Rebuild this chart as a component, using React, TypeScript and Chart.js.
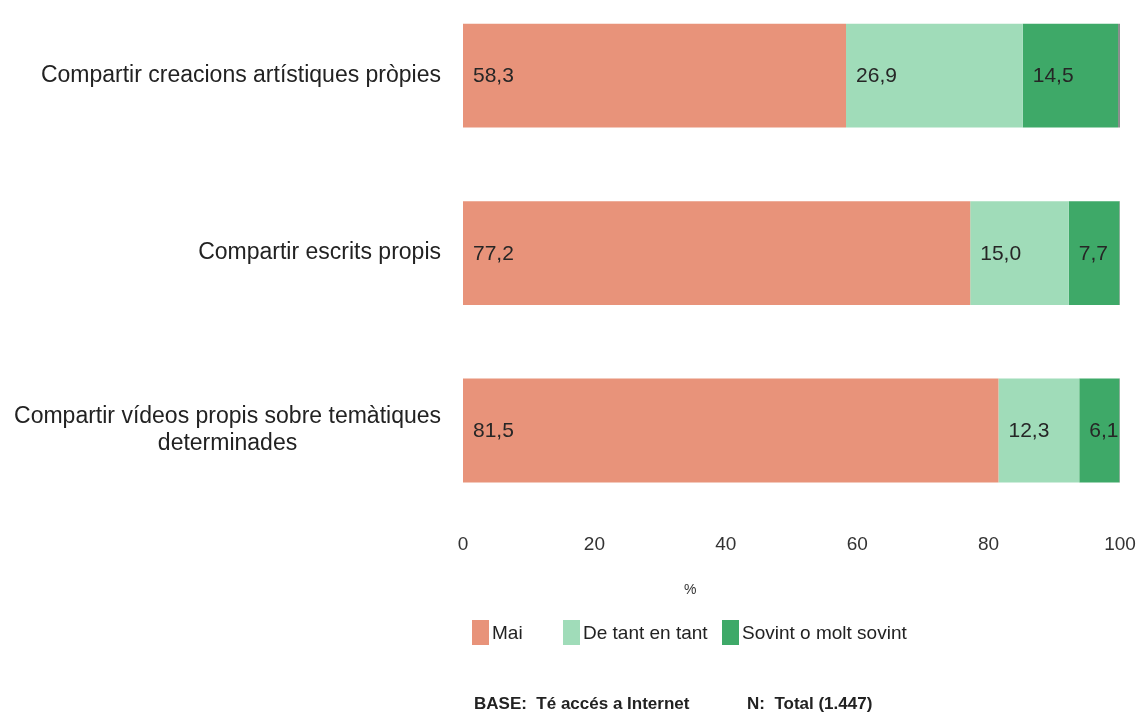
import React, { useEffect, useRef } from "react";
import { Chart, registerables } from "chart.js";

Chart.register(...registerables);

const categories: string[][] = [
  ["Compartir creacions artístiques pròpies"],
  ["Compartir escrits propis"],
  ["Compartir vídeos propis sobre temàtiques", "determinades"],
];
const mai = [58.3, 77.2, 81.5];
const deTant = [26.9, 15.0, 12.3];
const sovint = [14.5, 7.7, 6.1];
const nsnc = [0.3, 0.1, 0.1];
const seriesNames = ["Mai", "De tant en tant", "Sovint o molt sovint", "NS/NC"];
const seriesColors = ["#E8937A", "#A0DCB9", "#3EA968", "#8C8C8C"];
const xTicks = [0, 20, 40, 60, 80, 100];

const FONT = "'Liberation Sans', Arial, sans-serif";

const labelPlugin = {
  id: "customLabels",
  afterDatasetsDraw(chart: any) {
    const ctx = chart.ctx;
    ctx.save();
    // data labels
    ctx.font = `21px ${FONT}`;
    ctx.fillStyle = "#262626";
    ctx.textAlign = "left";
    ctx.textBaseline = "middle";
    chart.data.datasets.forEach((ds: any, di: number) => {
      if (di > 2) return;
      const meta = chart.getDatasetMeta(di);
      meta.data.forEach((bar: any, i: number) => {
        const v = ds.data[i];
        const left = Math.min(bar.x, bar.base);
        ctx.fillText(v.toFixed(1).replace(".", ","), left + 10, bar.y + 1);
      });
    });
    // category labels
    const yScale = chart.scales.y;
    const rightEdge = chart.chartArea.left - 22;
    ctx.font = `23px ${FONT}`;
    ctx.fillStyle = "#222";
    ctx.textAlign = "center";
    const lh = 27;
    categories.forEach((lines, i) => {
      const cy = yScale.getPixelForTick(i);
      const w = Math.max(...lines.map((l) => ctx.measureText(l).width));
      const cx = rightEdge - w / 2;
      const y0 = cy - ((lines.length - 1) * lh) / 2;
      lines.forEach((l, k) => ctx.fillText(l, cx, y0 + k * lh));
    });
    ctx.restore();
  },
};

export default function App() {
  const ref = useRef<HTMLCanvasElement | null>(null);
  useEffect(() => {
    if (!ref.current) return;
    const data = [mai, deTant, sovint, nsnc];
    const chart = new Chart(ref.current, {
      type: "bar",
      data: {
        labels: categories.map((c) => c.join(" ")),
        datasets: data.map((d, i) => ({
          label: seriesNames[i],
          data: d,
          backgroundColor: seriesColors[i],
          borderWidth: 0,
          barPercentage: 0.585,
          categoryPercentage: 1,
        })),
      },
      options: {
        indexAxis: "y",
        animation: false,
        responsive: false,
        maintainAspectRatio: false,
        layout: { padding: { left: 463, right: 17, top: 27, bottom: 152 } },
        plugins: {
          legend: { display: false },
          tooltip: { enabled: false },
          title: { display: false },
        },
        scales: {
          x: {
            stacked: true,
            min: 0,
            max: 100,
            grid: { display: false },
            border: { display: false },
            afterBuildTicks: (scale: any) => {
              scale.ticks = xTicks.map((v) => ({ value: v }));
            },
            afterFit: (scale: any) => {
              scale.paddingLeft = 0;
              scale.paddingRight = 0;
            },
            ticks: {
              padding: 6.5,
              color: "#333",
              font: { family: FONT, size: 19 },
            },
          },
          y: {
            stacked: true,
            display: false,
            offset: true,
          },
        },
      },
      plugins: [labelPlugin],
    });
    return () => chart.destroy();
  }, []);

  const legendItem = (i: number, width?: number) => (
    <div
      key={i}
      style={{ display: "flex", alignItems: "center", width: width ? width : undefined }}
    >
      <div style={{ width: 17, height: 25, background: seriesColors[i], marginRight: 3 }} />
      <span>{seriesNames[i]}</span>
    </div>
  );

  return (
    <div
      style={{
        position: "absolute",
        left: 0,
        top: 0,
        width: 1137,
        height: 715,
        overflow: "hidden",
        background: "#fff",
      }}
    >
      <canvas
        ref={ref}
        width={1137}
        height={755}
        style={{ position: "absolute", left: 0, top: -40, width: 1137, height: 755 }}
      />
      <div
        style={{
          position: "absolute",
          left: 684,
          top: 581,
          font: `14px ${FONT}`,
          color: "#333",
        }}
      >
        %
      </div>
      <div
        style={{
          position: "absolute",
          left: 472,
          top: 620,
          display: "flex",
          font: `19px ${FONT}`,
          color: "#222",
          whiteSpace: "nowrap",
        }}
      >
        {legendItem(0, 91)}
        {legendItem(1, 159)}
        {legendItem(2)}
      </div>
      <div
        style={{
          position: "absolute",
          left: 474,
          top: 694,
          font: `bold 17px ${FONT}`,
          color: "#222",
          whiteSpace: "pre",
        }}
      >
        BASE:  Té accés a Internet
      </div>
      <div
        style={{
          position: "absolute",
          left: 747,
          top: 694,
          font: `bold 17px ${FONT}`,
          color: "#222",
          whiteSpace: "pre",
        }}
      >
        N:  Total (1.447)
      </div>
    </div>
  );
}
